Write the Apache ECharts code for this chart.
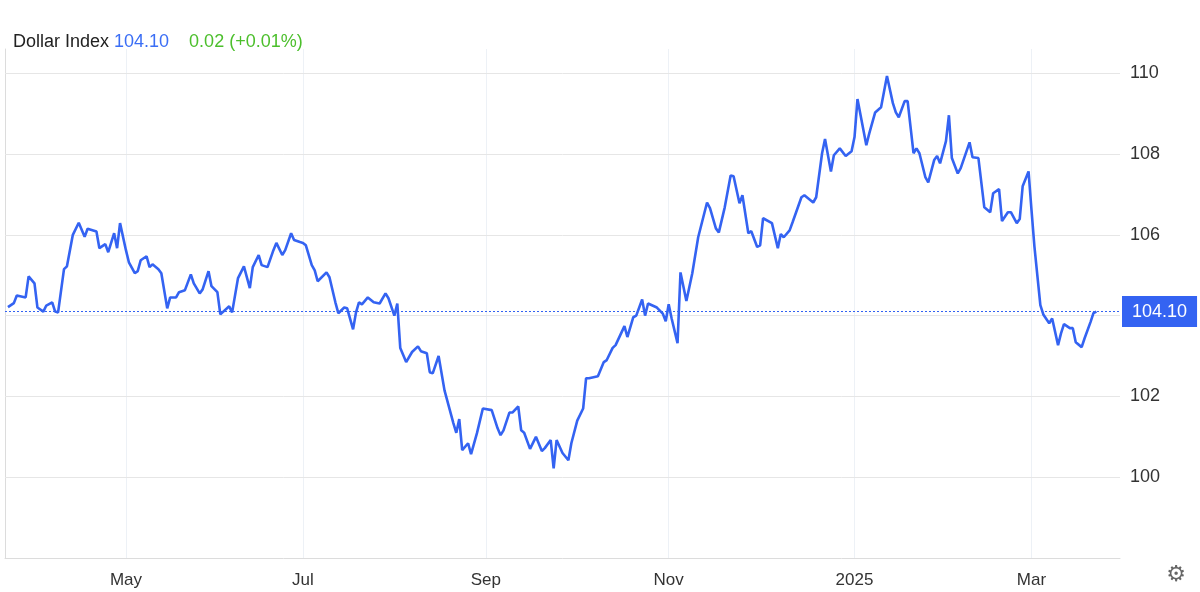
<!DOCTYPE html>
<html>
<head>
<meta charset="utf-8">
<script src="https://cdn.jsdelivr.net/npm/echarts@6/dist/echarts.min.js"></script>
<style>
  html, body { margin: 0; padding: 0; background: #fff; }
  #chart { width: 1200px; height: 592px; }
</style>
</head>
<body>
<div id="chart"></div>
<script>
// days since 2024-03-20
var days = [1,3,4,7,8,10,11,13,14,16,17,18,20,21,23,25,27,28,31,32,34,35,37,38,39,41,42,44,45,46,48,49,50,52,53,55,56,58,59,61,63,64,66,67,69,70,72,73,76,77,79,81,83,84,86,87,89,91,92,94,95,97,98,100,
  101,102,104,105,106,109,110,112,113,115,116,118,119,120,121,123,125,127,129,130,132,133,134,136,138,140,141,143,144,145,147,149,152,153,154,155,157,158,160,162,165,167,168,169,171,172,174,175,176,178,180,182,183,185,186,187,189,191,192,194,196,197,198,201,203,204,
  206,207,210,211,213,214,216,217,218,221,223,224,225,226,228,229,231,233,235,238,239,241,242,244,246,247,249,250,252,253,255,256,257,260,262,263,264,266,267,270,271,274,275,277,278,280,281,283,285,287,288,289,
  292,293,295,297,299,301,302,303,305,306,308,309,310,312,313,315,316,317,319,320,321,323,324,327,328,330,332,334,335,337,338,340,341,343,344,345,347,348,349,351,352,354,355,357,358,359,361,362,363,365,366,368,369,370];
var values = [104.21,104.31,104.5,104.45,104.97,104.8,104.2,104.1,104.25,104.33,104.1,104.08,105.15,105.22,106.0,106.3,105.95,106.15,106.08,105.67,105.77,105.57,106.04,105.67,106.29,105.62,105.32,105.05,105.1,105.37,105.47,105.2,105.27,105.15,105.05,104.18,104.45,104.45,104.58,104.63,105.02,104.8,104.55,104.65,105.1,104.73,104.58,104.03,104.23,104.08,104.93,105.22,104.68,105.2,105.5,105.25,105.2,105.62,105.8,105.5,105.62,106.04,105.87,105.82,
  105.8,105.74,105.25,105.12,104.85,105.07,104.95,104.33,104.06,104.2,104.18,103.66,104.08,104.33,104.28,104.45,104.33,104.3,104.55,104.43,104.0,104.3,103.2,102.85,103.1,103.24,103.12,103.07,102.6,102.57,103.0,102.15,101.34,101.1,101.44,100.67,100.84,100.57,101.09,101.7,101.66,101.21,101.04,101.16,101.6,101.6,101.75,101.16,101.1,100.7,101.0,100.65,100.72,100.92,100.22,100.92,100.6,100.42,100.84,101.4,101.7,102.45,102.45,102.5,102.85,102.9,
  103.2,103.27,103.74,103.47,103.96,104.0,104.4,104.0,104.3,104.2,104.05,103.86,104.28,103.93,103.32,105.07,104.36,105.05,105.94,106.8,106.66,106.16,106.06,106.68,107.47,107.45,106.78,106.98,106.04,106.09,105.7,105.74,106.41,106.29,105.67,106.02,105.94,106.11,106.31,106.93,106.98,106.8,106.93,108.02,108.37,107.57,107.97,108.14,107.95,108.07,108.42,109.36,
  108.22,108.51,109.03,109.16,109.93,109.26,109.03,108.91,109.31,109.31,108.02,108.14,108.02,107.43,107.3,107.85,107.95,107.77,108.32,108.96,107.9,107.52,107.65,108.29,107.92,107.9,106.68,106.56,107.03,107.13,106.34,106.56,106.56,106.29,106.39,107.2,107.57,106.61,105.7,104.26,104.03,103.81,103.93,103.27,103.56,103.79,103.69,103.69,103.34,103.22,103.44,103.84,104.06,104.1];
var tickDays = [41, 101, 163, 225, 288, 348];
var tickLabels = ['May', 'Jul', 'Sep', 'Nov', '2025', 'Mar'];
var yTicks = [100, 102, 104, 106, 108, 110];
var last = 104.10;

var chart = echarts.init(document.getElementById('chart'));
var points = [];
for (var i = 0; i < days.length; i++) points.push([days[i], values[i]]);

var gridLines = [];
tickDays.forEach(function (d) {
  gridLines.push({ xAxis: d, lineStyle: { color: '#edf1f6', type: 'solid', width: 1 }, label: { show: false } });
});
yTicks.forEach(function (v) {
  gridLines.push({ yAxis: v, lineStyle: { color: '#e6e6e6', type: 'solid', width: 1 }, label: { show: false } });
});

chart.setOption({
  animation: false,
  title: {
    left: 8, top: 28,
    text: '{a|Dollar Index} {b|104.10}    {c|0.02 (+0.01%)}',
    textStyle: {
      rich: {
        a: { fontSize: 18, color: '#222', fontWeight: 'normal', fontFamily: 'Liberation Sans' },
        b: { fontSize: 18, color: '#3b6ef5', fontWeight: 'normal', fontFamily: 'Liberation Sans' },
        c: { fontSize: 18, color: '#4cbf2c', fontWeight: 'normal', fontFamily: 'Liberation Sans' }
      }
    }
  },
  grid: { left: 5, right: 80, top: 49, bottom: 34 },
  xAxis: {
    type: 'value', min: 0, max: 378,
    axisLine: { show: true, lineStyle: { color: '#dcdcdc' } },
    axisTick: { show: false },
    axisLabel: {
      customValues: tickDays, color: '#333', fontSize: 17, margin: 14,
      fontFamily: 'Liberation Sans',
      formatter: function (v) { var k = tickDays.indexOf(v); return k >= 0 ? tickLabels[k] : ''; }
    },
    splitLine: { show: false }
  },
  yAxis: {
    type: 'value', position: 'right', min: 98, max: 110.6, interval: 2,
    axisLine: { show: true, lineStyle: { color: '#dcdcdc' } },
    axisTick: { show: false },
    axisLabel: { color: '#333', fontSize: 18, margin: 10, showMinLabel: false, showMaxLabel: false, fontFamily: 'Liberation Sans' },
    splitLine: { show: false }
  },
  series: [{
    type: 'line', data: points, showSymbol: false, z: 3,
    lineStyle: { color: '#3463f2', width: 2.6 },
    markLine: {
      symbol: 'none', silent: true, z: 1,
      data: gridLines
    }
  }, {
    type: 'line', data: [], z: 4,
    markLine: {
      symbol: 'none', silent: true,
      data: [{ yAxis: last }],
      lineStyle: { color: '#3463f2', type: [2, 2], width: 1 },
      label: {
        position: 'end', distance: 2, formatter: '104.10',
        color: '#fff', fontSize: 18, backgroundColor: '#3463f2',
        padding: [7, 10, 6, 10], fontFamily: 'Liberation Sans'
      }
    }
  }],
  graphic: [{
    type: 'text', right: 14, bottom: 6,
    style: { text: '\u2699', fontSize: 22, fill: '#666', fontFamily: 'DejaVu Sans' }
  }]
});
</script>
</body>
</html>
